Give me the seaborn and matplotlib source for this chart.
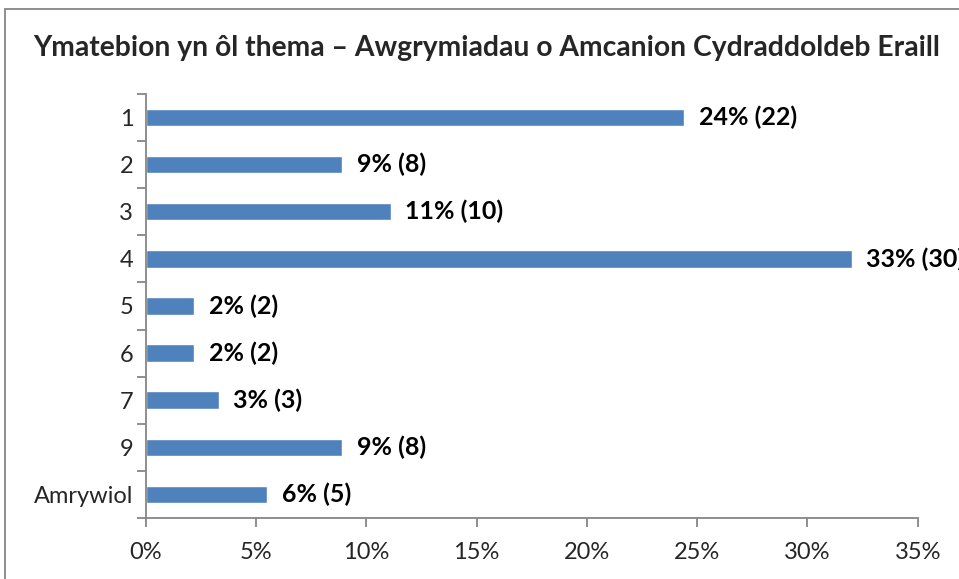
import matplotlib
matplotlib.use("Agg")
import matplotlib.pyplot as plt
from matplotlib.patches import Rectangle
from matplotlib.ticker import FixedLocator, PercentFormatter
import pandas as pd
import seaborn as sns

# data
themes = ["1", "2", "3", "4", "5", "6", "7", "9", "Amrywiol"]
share = [24.4, 8.9, 11.1, 32.0, 2.2, 2.2, 3.3, 8.9, 5.5]
pct_labels = ["24%", "9%", "11%", "33%", "2%", "2%", "3%", "9%", "6%"]
counts = [22, 8, 10, 30, 2, 2, 3, 8, 5]

title = "Ymatebion yn ôl thema – Awgrymiadau o Amcanion Cydraddoldeb Eraill"

df = pd.DataFrame({"thema": themes, "share": share})

sns.set_style("white")
plt.rcParams["font.family"] = ["Lato", "DejaVu Sans"]

grey = "#868686"
blue = "#4F81BD"

fig = plt.figure(figsize=(9.59, 5.79), dpi=100)
ax = fig.add_axes([0.152, 0.1054, 0.805, 0.7323])

sns.barplot(data=df, x="share", y="thema", order=themes, color=blue,
            saturation=1, width=0.37, orient="h", ax=ax)

# value labels; the last one runs off the right edge, as in the reference
for i, (p, n) in enumerate(zip(pct_labels, counts)):
    ax.annotate(f"{p} ({n})", xy=(share[i], i), xytext=(10.5, 0),
                textcoords="offset points", ha="left", va="center",
                fontsize=18, fontweight="bold", color="black",
                annotation_clip=False)

ax.set_xlim(0, 35)
ax.set_ylim(len(themes) - 0.5, -0.5)
ax.set_xticks(range(0, 36, 5))
ax.xaxis.set_major_formatter(PercentFormatter(decimals=0))
ax.yaxis.set_minor_locator(FixedLocator([i - 0.5 for i in range(len(themes) + 1)]))

ax.set_xlabel("")
ax.set_ylabel("")
ax.tick_params(axis="x", which="major", length=6.5, width=1.3, color=grey,
               labelsize=17, pad=11, direction="out", bottom=True)
ax.tick_params(axis="y", which="major", length=0, labelsize=17, pad=9)
ax.tick_params(axis="y", which="minor", length=6.5, width=1.3, color=grey,
               direction="out", left=True)

for side in ["top", "right"]:
    ax.spines[side].set_visible(False)
for side in ["left", "bottom"]:
    ax.spines[side].set_color(grey)
    ax.spines[side].set_linewidth(1.3)

fig.text(0.507, 0.917, title, ha="center", va="center",
         fontsize=20.3, fontweight="bold")

# chart-area border (cropped on right and bottom in the reference)
fig.patches.append(Rectangle((5 / 959, -0.1), 1.2, 0.1 + 1 - 9 / 579,
                             transform=fig.transFigure, fill=False,
                             edgecolor=grey, linewidth=1.3))

fig.savefig("out.png", dpi=100)
